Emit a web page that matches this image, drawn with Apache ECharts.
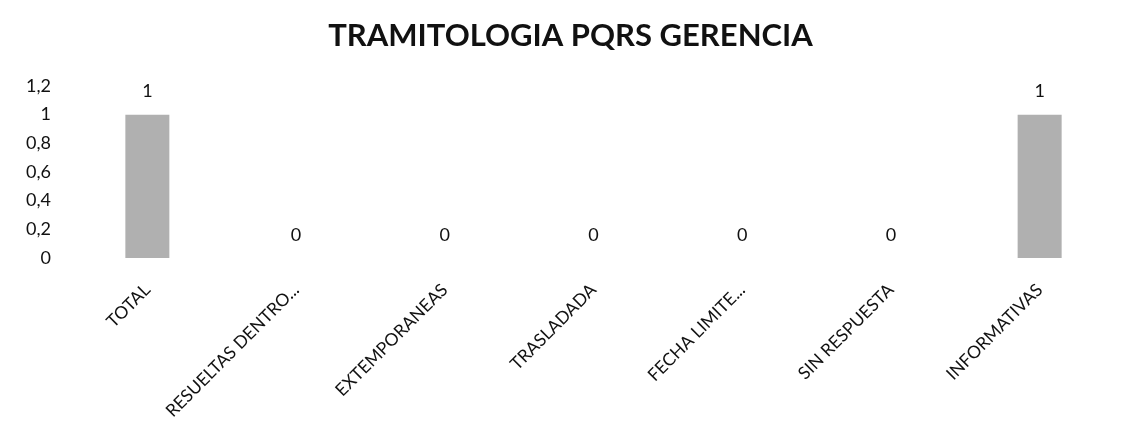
<!DOCTYPE html>
<html>
<head>
    <meta charset="utf-8">
    <title>TRAMITOLOGIA PQRS GERENCIA</title>
    <script src="https://cdn.jsdelivr.net/npm/echarts@6/dist/echarts.min.js"></script>
    <style>
        html, body { margin: 0; padding: 0; background: #fff; }
        #chart1 { width: 1141px; height: 428px; }
    </style>
</head>
<body>
<div id="chart1"></div>
<script type="text/javascript">
    // datos
    var categorias = ['TOTAL', 'RESUELTAS DENTRO...', 'EXTEMPORANEAS', 'TRASLADADA', 'FECHA LIMITE...', 'SIN RESPUESTA', 'INFORMATIVAS'];
    var cantidades = [1, 0, 0, 0, 0, 0, 1];

    var fuente = 'Lato, "Open Sans", sans-serif';
    var myChart1 = echarts.init(document.getElementById('chart1'));

    myChart1.setOption({
        animation: false,
        title: {
            text: 'TRAMITOLOGIA PQRS GERENCIA',
            left: 'center',
            top: 15,
            textStyle: { fontFamily: fuente, fontSize: 31, fontWeight: 'bold', color: '#111' }
        },
        grid: { left: 73, right: 27, top: 86, bottom: 170 },
        xAxis: {
            type: 'category',
            data: categorias,
            axisLine: { show: false },
            axisTick: { show: false },
            axisLabel: {
                rotate: 45,
                interval: 0,
                margin: 29,
                fontFamily: fuente,
                fontSize: 17.5,
                color: '#111'
            }
        },
        yAxis: {
            type: 'value',
            min: 0,
            max: 1.2,
            interval: 0.2,
            splitLine: { show: false },
            axisLabel: {
                margin: 22,
                fontFamily: fuente,
                fontSize: 18,
                color: '#111',
                formatter: function (v) {
                    return String(Math.round(v * 10) / 10).replace('.', ',');
                }
            }
        },
        series: [{
            name: 'TRAMITOLOGIA',
            type: 'bar',
            data: cantidades,
            barWidth: 44,
            itemStyle: { color: '#b0b0b0' },
            label: {
                show: true,
                position: 'top',
                distance: 14,
                fontFamily: fuente,
                fontSize: 18,
                color: '#111'
            }
        }]
    });
</script>
</body>
</html>
